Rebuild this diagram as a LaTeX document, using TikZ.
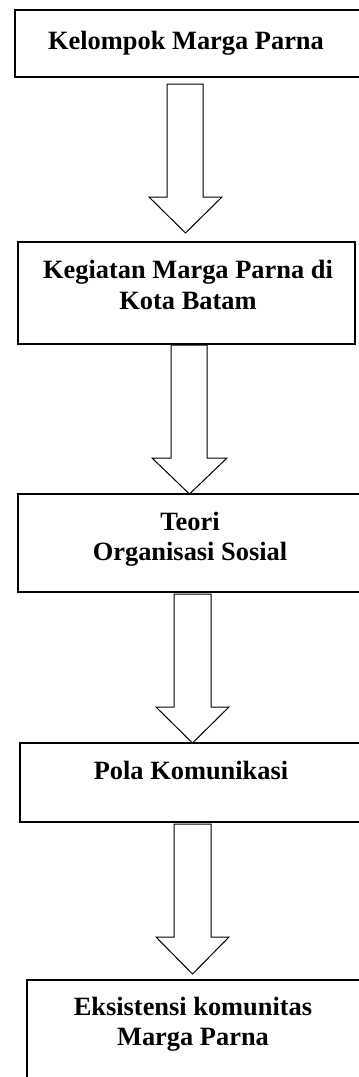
\documentclass[tikz,border=0pt]{standalone}
\usepackage{fontspec}
\setmainfont{Liberation Serif}
\begin{document}
\begin{tikzpicture}[x=1pt,y=-1pt,
  boxline/.style={draw=black,line width=1.3pt},
  blockarrow/.style={draw=black,line width=1pt,fill=white,line join=miter},
  lbl/.style={font=\fontsize{26.4}{31}\selectfont\bfseries,anchor=base,inner sep=0pt}]
\useasboundingbox (0,0) rectangle (359,1077);
% boxes
\draw[boxline] (15,10) rectangle (385,77);
\draw[boxline] (18,242) rectangle (355,344);
\draw[boxline] (18,494) rectangle (385,592);
\draw[boxline] (20,743) rectangle (385,822);
\draw[boxline] (27,980) rectangle (385,1100);
% labels
\node[lbl] (t1) at (186,49) {Kelompok Marga Parna};
\node[lbl] (t2a) at (188,278) {Kegiatan Marga Parna di};
\node[lbl] (t2b) at (188,309) {Kota Batam};
\node[lbl] (t3a) at (190,530) {Teori};
\node[lbl] (t3b) at (190,560) {Organisasi Sosial};
\node[lbl] (t4) at (191,779) {Pola Komunikasi};
\node[lbl] (t5a) at (193,1015) {Eksistensi komunitas};
\node[lbl] (t5b) at (193,1045) {Marga Parna};
% block arrows
\draw[blockarrow] (167,84) -- (203,84) -- (203,197) -- (222,197) -- (185.5,233) -- (149,197) -- (167,197) -- cycle;
\draw[blockarrow] (171,345) -- (207,345) -- (207,458) -- (227,458) -- (189.5,494) -- (152,458) -- (171,458) -- cycle;
\draw[blockarrow] (174,594) -- (211,594) -- (211,707) -- (229,707) -- (192.5,743) -- (156,707) -- (174,707) -- cycle;
\draw[blockarrow] (174,824) -- (211,824) -- (211,937) -- (229,937) -- (192.5,974) -- (156,937) -- (174,937) -- cycle;
\end{tikzpicture}
\end{document}
